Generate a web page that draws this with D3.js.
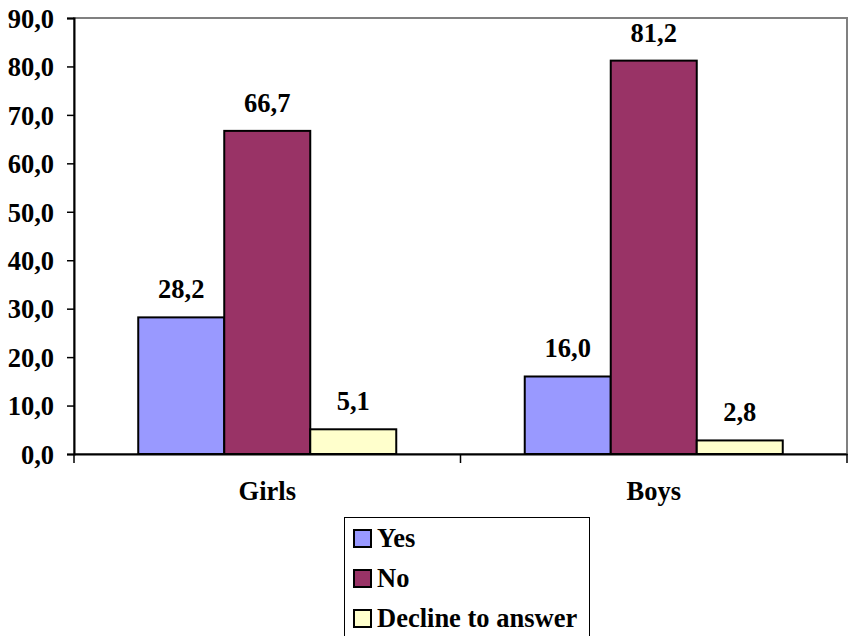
<!DOCTYPE html>
<html><head><meta charset="utf-8">
<script src="https://cdn.jsdelivr.net/npm/d3@7"></script>
<style>body{margin:0;background:#fff}svg{display:block}</style>
</head><body><svg id="c" width="850" height="636"></svg>
<script>
const categories = ["Girls", "Boys"];
const seriesNames = ["Yes", "No", "Decline to answer"];
const yesValues = [28.2, 16.0];
const noValues = [66.7, 81.2];
const declineValues = [5.1, 2.8];
const yTicks = [0, 10, 20, 30, 40, 50, 60, 70, 80, 90];
const colors = ["#9999FF", "#993366", "#FFFFCC"];

const seriesValues = [yesValues, noValues, declineValues];
const svg = d3.select("#c");
const L = 74, R = 847, T = 18, B = 454;
const fmt = v => v.toFixed(1).replace(".", ",");
const styleText = sel => sel.style("font-family", '"Liberation Serif"').style("font-weight", "bold")
  .style("font-size", "26.5px").style("fill", "#000");

const x0 = d3.scaleBand().domain(categories).range([L, R]).padding(0);
const x1 = d3.scaleBand().domain(seriesNames).range([0, x0.bandwidth()]).paddingInner(0).paddingOuter(0.747);
const y = d3.scaleLinear().domain([0, 90]).range([B, T]);

svg.append("rect").attr("x", L).attr("y", T).attr("width", R - L).attr("height", B - T)
  .attr("fill", "none").attr("stroke", "#808080").attr("stroke-width", 2);

categories.forEach((c, ci) => {
  seriesNames.forEach((s, si) => {
    const v = seriesValues[si][ci];
    svg.append("rect")
      .attr("x", x0(c) + x1(s)).attr("y", y(v))
      .attr("width", x1.bandwidth()).attr("height", y(0) - y(v))
      .attr("fill", colors[si]).attr("stroke", "#000").attr("stroke-width", 2);
    svg.append("text")
      .attr("x", x0(c) + x1(s) + x1.bandwidth() / 2).attr("y", y(v) - 19)
      .attr("text-anchor", "middle").call(styleText).text(fmt(v));
  });
});

const ya = svg.append("g").attr("transform", `translate(${L},0)`)
  .call(d3.axisLeft(y).tickValues(yTicks).tickSize(7).tickFormat(fmt));
ya.select(".domain").attr("stroke", "#000").attr("stroke-width", 2);
ya.selectAll(".tick line").attr("stroke", "#000").attr("stroke-width", 1.5);
ya.selectAll(".tick text").call(styleText).attr("x", -20).attr("dy", "0.35em");

const xa = svg.append("g").attr("transform", `translate(0,${B})`)
  .call(d3.axisBottom(x0).tickSize(0).tickSizeOuter(0));
xa.select(".domain").attr("stroke", "#000").attr("stroke-width", 2);
xa.selectAll(".tick text").call(styleText).attr("y", 0).attr("dy", 46);
const bounds = [L, ...categories.slice(1).map(c => x0(c)), R];
svg.selectAll(".bt").data(bounds).enter().append("line")
  .attr("x1", d => d).attr("x2", d => d).attr("y1", B).attr("y2", B + 9)
  .attr("stroke", "#000").attr("stroke-width", 1.5);

const lg = svg.append("g");
lg.append("rect").attr("x", 344.5).attr("y", 517.5).attr("width", 245).attr("height", 130)
  .attr("fill", "#fff").attr("stroke", "#000").attr("stroke-width", 1);
seriesNames.forEach((s, i) => {
  const yy = 530 + i * 40;
  lg.append("rect").attr("x", 354).attr("y", yy).attr("width", 17).attr("height", 17)
    .attr("fill", colors[i]).attr("stroke", "#000").attr("stroke-width", 2);
  lg.append("text").attr("x", 377).attr("y", yy + 17).call(styleText).text(s);
});
</script></body></html>
